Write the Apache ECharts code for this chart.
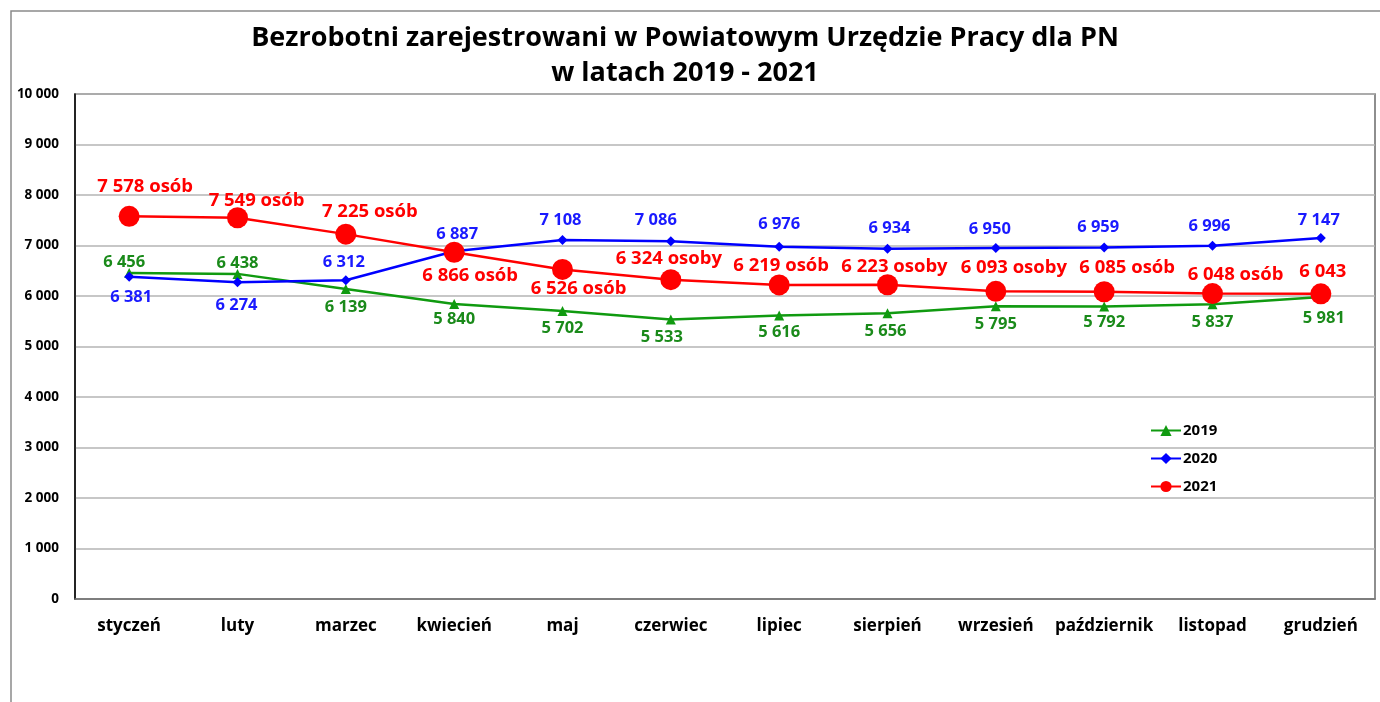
<!DOCTYPE html>
<html><head><meta charset="utf-8">
<script src="https://cdn.jsdelivr.net/npm/echarts@6/dist/echarts.min.js"></script>
<style>html,body{margin:0;padding:0;background:#fff}#c{width:1380px;height:702px}</style>
</head><body><div id="c"></div>
<script>
const titleLines = ['Bezrobotni zarejestrowani w Powiatowym Urzędzie Pracy dla PN', 'w latach 2019 - 2021'];
const months = ['styczeń','luty','marzec','kwiecień','maj','czerwiec','lipiec','sierpień','wrzesień','październik','listopad','grudzień'];
const seriesNames = ['2019','2020','2021'];
const v2019 = [6456,6438,6139,5840,5702,5533,5616,5656,5795,5792,5837,5981];
const v2020 = [6381,6274,6312,6887,7108,7086,6976,6934,6950,6959,6996,7147];
const v2021 = [7578,7549,7225,6866,6526,6324,6219,6223,6093,6085,6048,6043];
const labels2021 = ['7 578 osób','7 549 osób','7 225 osób','6 866 osób','6 526 osób','6 324 osoby','6 219 osób','6 223 osoby','6 093 osoby','6 085 osób','6 048 osób','6 043'];
const yTicks = [0,1000,2000,3000,4000,5000,6000,7000,8000,9000,10000];

// label placement (style only)
const off2019 = [[-5,-11],[0,-11],[0,18],[0,15],[0,17],[-9,18],[0,17],[-2,18],[0,18],[0,16],[0,18],[3,21]];
const off2020 = [[2,21],[-1,23],[-2,-18],[3,-17],[-2,-20],[-15,-21],[0,-22],[2,-21],[-6,-19],[-6,-20],[-3,-19],[-2,-18]];
const off2021 = [[16,-30],[19,-17],[24,-22],[16,23],[16,19],[-2,-21],[2,-19],[7,-18],[18,-24],[23,-24],[23,-19],[2,-22]];

const fmt = n => { const s = String(n); return s.length > 3 ? s.slice(0, s.length-3) + ' ' + s.slice(-3) : s; };
const FONT = '"Open Sans", "Noto Sans", sans-serif';

function mk(vals, offs, textFn, color, size) {
  return vals.map((v,i) => ({
    value: v,
    label: {
      show: true, position: 'inside', offset: offs[i],
      formatter: textFn(i), color: color, fontSize: size, fontWeight: 'bold', fontFamily: FONT
    }
  }));
}

const chart = echarts.init(document.getElementById('c'));
chart.setOption({
  animation: false,
  backgroundColor: '#fff',
  title: {
    text: titleLines.join('\n'), left: 680, textAlign: 'center', top: 16,
    textStyle: { fontFamily: FONT, fontWeight: 'bold', fontSize: 27, lineHeight: 35, color: '#000' }
  },
  graphic: [{ type: 'rect', shape: { x: 11, y: 11, width: 1420, height: 800 }, style: { fill: 'none', stroke: '#8a8a8a', lineWidth: 1.5 }, silent: true }],
  grid: { left: 75, right: 5, top: 94, bottom: 103, show: true, borderColor: '#6a6a6a', borderWidth: 1.5 },
  legend: {
    orient: 'vertical', left: 1145, top: 418, itemGap: 13, itemWidth: 30, itemHeight: 14,
    data: seriesNames,
    textStyle: { fontFamily: FONT, fontWeight: 'bold', fontSize: 15, color: '#000', padding: [0,0,0,-3] }
  },
  xAxis: {
    type: 'category', data: months, boundaryGap: true,
    axisLine: { lineStyle: { color: '#707070', width: 1.5 } },
    axisTick: { show: false },
    axisLabel: { margin: 19, fontFamily: FONT, fontWeight: 'bold', fontSize: 17, color: '#000', interval: 0 }
  },
  yAxis: {
    type: 'value', min: yTicks[0], max: yTicks[yTicks.length-1], interval: 1000,
    axisLine: { show: true, lineStyle: { color: '#000', width: 1.5 } },
    axisTick: { show: false },
    splitLine: { lineStyle: { color: '#b4b4b4', width: 1.5 } },
    axisLabel: { margin: 16, fontFamily: FONT, fontWeight: 'bold', fontSize: 13.5, color: '#000', formatter: fmt }
  },
  series: [
    { name: seriesNames[0], type: 'line', symbol: 'triangle', symbolSize: 10, color: '#109a10',
      lineStyle: { width: 2.5, color: '#109a10' }, itemStyle: { color: '#109a10' },
      data: mk(v2019, off2019, i => fmt(v2019[i]), '#1a8a1a', 16.5), z: 2 },
    { name: seriesNames[1], type: 'line', symbol: 'diamond', symbolSize: 10, color: '#0000ff',
      lineStyle: { width: 2.5, color: '#0000ff' }, itemStyle: { color: '#0000ff' },
      data: mk(v2020, off2020, i => fmt(v2020[i]), '#1a1aff', 16.5), z: 3 },
    { name: seriesNames[2], type: 'line', symbol: 'circle', symbolSize: 21, color: '#ff0000',
      lineStyle: { width: 2.5, color: '#ff0000' }, itemStyle: { color: '#ff0000' },
      data: mk(v2021, off2021, i => labels2021[i], '#ff0000', 18.5), z: 4 }
  ]
});
</script></body></html>
